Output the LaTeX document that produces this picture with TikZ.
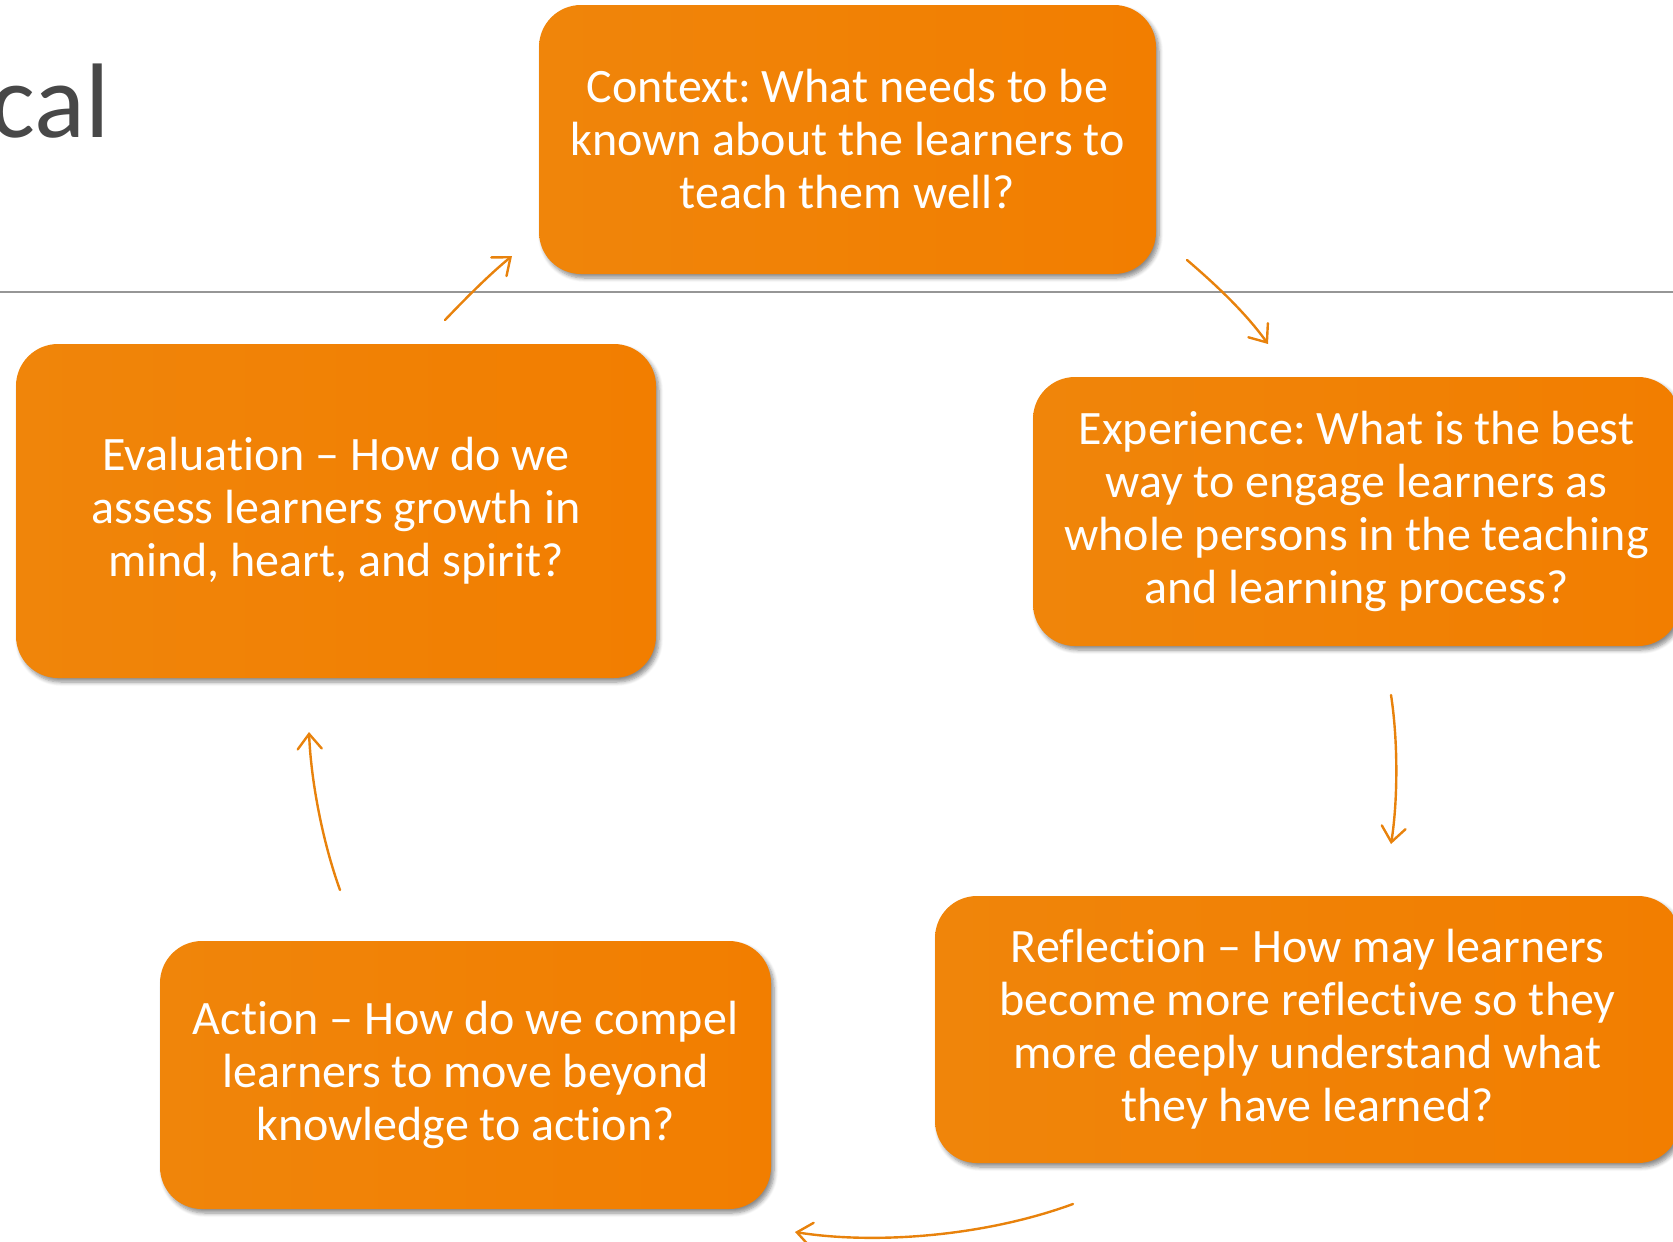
\documentclass[tikz,border=0pt]{standalone}
\usepackage{fontspec}
\setmainfont[Ligatures=NoCommon]{Carlito}
\usetikzlibrary{arrows.meta,shadows.blur}
\definecolor{boxA}{RGB}{240,133,10}
\definecolor{boxB}{RGB}{242,126,0}
\definecolor{arrowc}{RGB}{232,130,12}
\definecolor{rulec}{RGB}{150,150,150}
\definecolor{titlec}{RGB}{72,72,72}
\frenchspacing
\begin{document}
\begin{tikzpicture}[x=1pt,y=-1pt,
  stage/.style={rectangle, rounded corners=42pt, align=center, text=white, inner sep=0pt,
    font=\fontsize{48}{53}\selectfont, left color=boxA, right color=boxB, draw=none,
    blur shadow={shadow xshift=3pt, shadow yshift=-4pt, shadow blur steps=6,
                 shadow blur radius=4pt, shadow opacity=45}},
  flow/.style={draw=arrowc, line width=2.4pt, line cap=round,
    -{Straight Barb[length=15pt,width=24pt,line cap=round]}}
]
\useasboundingbox (0,0) rectangle (1673,1242);
\clip (0,0) rectangle (1673,1242);

% slide title and rule
\node[anchor=base east, text=titlec, font=\fontsize{106}{120}\selectfont, inner sep=0pt]
  (title) at (110,137) {cal};
\draw[rulec, line width=1.6pt] (0,292) -- (1673,292);

% the five stages
\node[stage, minimum width=617pt, minimum height=269pt] (context) at (847.5,139.5)
  {Context: What needs to be\\known about the learners to\\teach them well?};
\node[stage, minimum width=647pt, minimum height=269pt] (experience) at (1356.5,511.5)
  {Experience: What is the best\\way to engage learners as\\whole persons in the teaching\\and learning process?};
\node[stage, minimum width=745pt, minimum height=267pt] (reflection) at (1307.5,1029.5)
  {Reflection -- How may learners\\become more reflective so they\\more deeply understand what\\they have learned?};
\node[stage, minimum width=611pt, minimum height=268pt] (action) at (465.5,1075)
  {Action -- How do we compel\\learners to move beyond\\knowledge to action?};
\node[stage, minimum width=640pt, minimum height=334pt] (evaluation) at (336,511)
  {Evaluation -- How do we\\assess learners growth in\\mind, heart, and spirit?};

% free arrow ends
\coordinate (e1) at (445,320);  \coordinate (e2) at (512,256);
\coordinate (c1) at (1187,260); \coordinate (c2) at (1268,344);
\coordinate (x1) at (1391,695); \coordinate (x2) at (1391,844);
\coordinate (r1) at (1073,1204);\coordinate (r2) at (795,1232);
\coordinate (a1) at (340,890);  \coordinate (a2) at (309,732);

% cycle arrows
\draw[flow] (e1) .. controls (468,296) and (490,274) .. (e2);
\draw[flow] (c1) .. controls (1215,284) and (1245,312) .. (c2);
\draw[flow] (x1) .. controls (1398,740) and (1398,800) .. (x2);
\draw[flow] (r1) .. controls (980,1238) and (870,1244) .. (r2);
\draw[flow] (a1) .. controls (322,840) and (311,780) .. (a2);
\end{tikzpicture}
\end{document}
